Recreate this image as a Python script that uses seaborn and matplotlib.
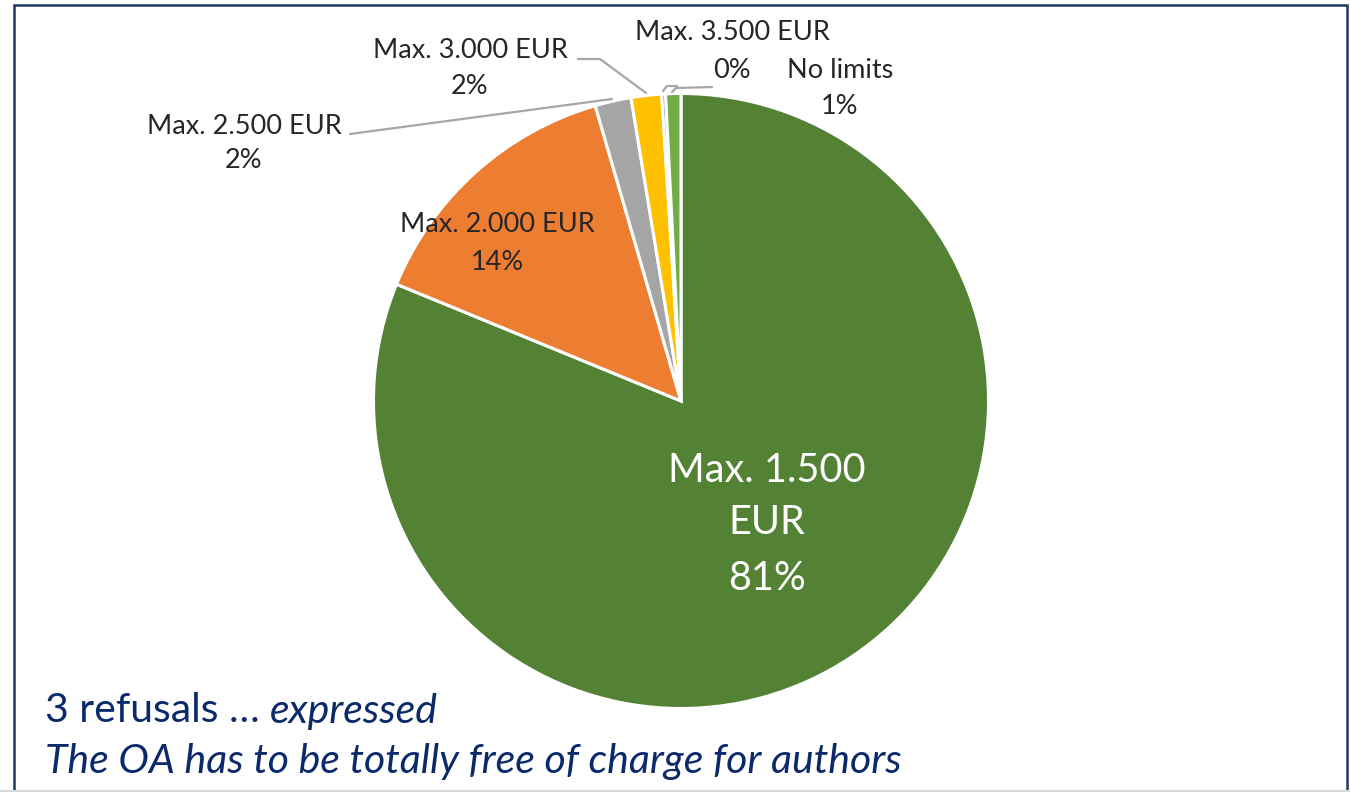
import matplotlib
matplotlib.use("Agg")
import matplotlib.pyplot as plt
import seaborn as sns
from matplotlib.patches import Rectangle
from matplotlib.lines import Line2D

sns.set_theme(style="white")
plt.rcParams['font.family'] = ['Lato', 'DejaVu Sans']

# ---- data ----
categories = ["Max. 1.500 EUR", "Max. 2.000 EUR", "Max. 2.500 EUR",
              "Max. 3.000 EUR", "Max. 3.500 EUR", "No limits"]
shares = [81.2, 14.3, 1.9, 1.6, 0.2, 0.8]
colors = ["#548235", "#ED7D31", "#A5A5A5", "#FFC000", "#5B9BD5", "#70AD47"]
note_line1_regular = "3 refusals … "
note_line1_italic = "expressed"
note_line2 = "The OA has to be totally free of charge for authors"

W, H = 1350, 792
fig = plt.figure(figsize=(W / 100, H / 100), dpi=100)
ax = fig.add_axes([0, 0, 1, 1])

def Y(y):
    return H - y

cx, cy, r = 681, 401, 307.5
ax.pie(shares, colors=colors, startangle=90, counterclock=False,
       center=(cx, Y(cy)), radius=r,
       wedgeprops=dict(edgecolor="white", linewidth=2.2))
ax.set_xlim(0, W)
ax.set_ylim(0, H)
ax.set_aspect("equal")
ax.axis("off")

def pct(v):
    return f"{round(v)}%"

lab_fs = 19.5
txt_col = "#262626"
# label positions (pixel coords in image): x centre, y of name line, y of % line
label_pos = {
    1: (497, 225, 262),
    2: (244, 127, 161),
    3: (470, 50, 87),
    4: (732, 33, 71),
    5: (840, 71, 106),
}
for i, (x, y1, y2) in label_pos.items():
    ax.text(x, Y(y1), categories[i], ha="center", va="center",
            fontsize=lab_fs, color=txt_col)
    ax.text(x, Y(y2), pct(shares[i]), ha="center", va="center",
            fontsize=lab_fs, color=txt_col)

# main slice label
main_lines = ["Max. 1.500", "EUR", pct(shares[0])]
for txt, y in zip(main_lines, [470, 523, 578]):
    ax.text(767, Y(y), txt, ha="center", va="center",
            fontsize=28.5, color="white")

# leader lines
lc = "#A6A6A6"
leaders = [
    [(350, 134), (612, 99)],
    [(578, 59), (600, 59), (646, 93)],
    [(663, 91), (667, 86), (677, 86)],
    [(672, 92), (676, 88), (712, 87)],
]
for pts in leaders:
    xs = [p[0] for p in pts]
    ys = [Y(p[1]) for p in pts]
    ax.add_line(Line2D(xs, ys, color=lc, lw=1.6))

# notes
navy = "#0B2A6B"
note_fs = 29.5
t1 = ax.text(45, Y(711), note_line1_regular, ha="left", va="center",
             fontsize=note_fs, color=navy)
fig.canvas.draw()
bb = t1.get_window_extent()
ax.text(bb.x1, Y(711), note_line1_italic, ha="left", va="center",
        fontsize=note_fs, color=navy, style="italic")
ax.text(45, Y(762), note_line2, ha="left", va="center",
        fontsize=note_fs, color=navy, style="italic")

# frame
fig.patches.append(Rectangle((14 / W, -0.01), (1347 - 14) / W, (H - 5) / H + 0.01,
                             transform=fig.transFigure, fill=False,
                             edgecolor="#1F3864", linewidth=1.8))
fig.patches.append(Line2D([0, 1], [1.5 / H, 1.5 / H], transform=fig.transFigure,
                          color="#D9D9D9", lw=1.5))

fig.savefig("out.png", dpi=100, facecolor="white")
